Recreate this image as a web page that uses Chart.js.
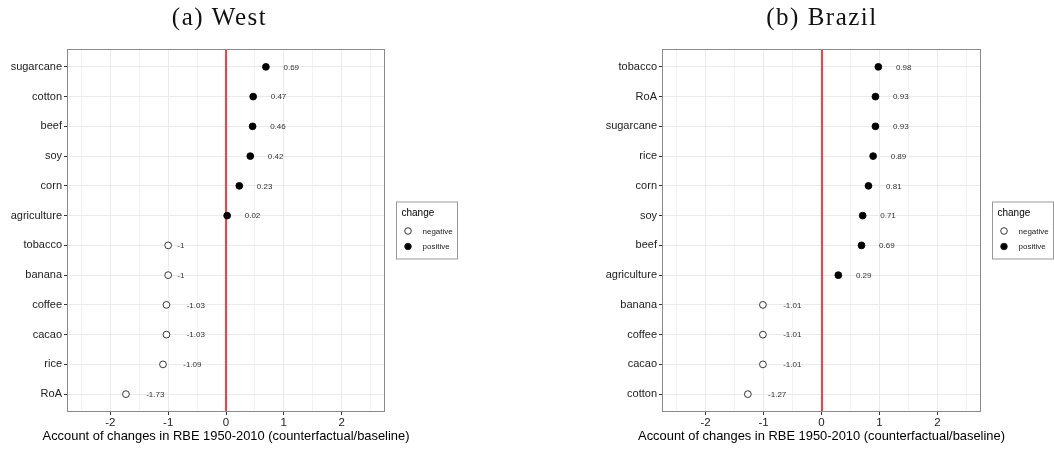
<!DOCTYPE html>
<html><head><meta charset="utf-8">
<script src="https://cdn.jsdelivr.net/npm/chart.js@4.4.1/dist/chart.umd.min.js"></script>
<style>
html,body{margin:0;padding:0;background:#fff}
body{width:1054px;height:451px;overflow:hidden;position:relative}
canvas{position:absolute;top:0}
</style></head><body>
<canvas id="c1" width="530" height="451" style="left:0"></canvas>
<canvas id="c2" width="524" height="451" style="left:530px"></canvas>
<script>
// ---- data ----
const westTitle = '(a) West';
const brazilTitle = '(b) Brazil';
const westCategories = ['sugarcane','cotton','beef','soy','corn','agriculture','tobacco','banana','coffee','cacao','rice','RoA'];
const westValues     = [0.69, 0.47, 0.46, 0.42, 0.23, 0.02, -1, -1, -1.03, -1.03, -1.09, -1.73];
const brazilCategories = ['tobacco','RoA','sugarcane','rice','corn','soy','beef','agriculture','banana','coffee','cacao','cotton'];
const brazilValues     = [0.98, 0.93, 0.93, 0.89, 0.81, 0.71, 0.69, 0.29, -1.01, -1.01, -1.01, -1.27];
const xTickValues = [-2.5, -2, -1.5, -1, -0.5, 0, 0.5, 1, 1.5, 2, 2.5];
const legendTitle = 'change';
const legendLabels = ['negative', 'positive'];
const axisTitle = 'Account of changes in RBE 1950-2010 (counterfactual/baseline)';

const SANS = '"Liberation Sans", Arial, Helvetica, sans-serif';
Chart.defaults.font.family = SANS;

function makeChart(id, title, titleX, cats, vals, yWidth, padRight, legendX) {
  const n = cats.length;
  const neg = [], pos = [];
  vals.forEach((v, i) => {
    const p = {x: v, y: n - i};
    (v < 0 ? neg : pos).push(p);
  });
  const decor = {
    id: 'decor_' + id,
    beforeDatasetsDraw(chart) {
      const {ctx, chartArea: a, scales: {x}} = chart;
      const x0 = Math.round(x.getPixelForValue(0)) ;
      ctx.save();
      ctx.strokeStyle = '#ff0000';
      ctx.lineWidth = 1.5;
      ctx.beginPath();
      ctx.moveTo(x0, a.top);
      ctx.lineTo(x0, a.bottom);
      ctx.stroke();
      ctx.restore();
    },
    afterDraw(chart) {
      const {ctx, chartArea: a, scales: {x, y}} = chart;
      ctx.save();
      // panel border
      ctx.strokeStyle = '#8a8a8a';
      ctx.lineWidth = 1;
      ctx.strokeRect(Math.round(a.left) + 0.5, Math.round(a.top) + 0.5,
                     Math.round(a.right - a.left) - 1, Math.round(a.bottom - a.top) - 1);
      // value labels
      ctx.font = '8px ' + SANS;
      ctx.fillStyle = '#333';
      ctx.textAlign = 'left';
      ctx.textBaseline = 'middle';
      vals.forEach((v, i) => {
        const t = String(v);
        const w = ctx.measureText(t).width;
        const px = x.getPixelForValue(v);
        const py = y.getPixelForValue(n - i);
        ctx.fillText(t, px + w + 2, py + 0.5);
      });
      // x axis title (drawn without width compression)
      ctx.font = '12.9px ' + SANS;
      ctx.fillStyle = '#000';
      ctx.textAlign = 'center';
      ctx.textBaseline = 'middle';
      ctx.fillText(axisTitle, (a.left + a.right) / 2, 436);
      // title
      ctx.font = '25px "Liberation Serif", "Times New Roman", serif';
      ctx.fillStyle = '#111';
      ctx.textAlign = 'center';
      ctx.textBaseline = 'alphabetic';
      if ('letterSpacing' in ctx) ctx.letterSpacing = '1.5px';
      ctx.fillText(title, titleX, 25);
      if ('letterSpacing' in ctx) ctx.letterSpacing = '0px';
      // legend
      const bx = legendX, by = 201.5;
      ctx.strokeStyle = '#999';
      ctx.lineWidth = 1;
      ctx.strokeRect(bx + 0.5, by + 0.5, 61, 57);
      ctx.font = '10px ' + SANS;
      ctx.fillStyle = '#000';
      ctx.textAlign = 'left';
      ctx.textBaseline = 'middle';
      ctx.fillText(legendTitle, bx + 5.5, by + 11.5);
      ctx.font = '8px ' + SANS;
      const ly = [by + 29.5, by + 45];
      legendLabels.forEach((lab, k) => {
        ctx.beginPath();
        ctx.arc(bx + 12, ly[k], 3.3, 0, Math.PI * 2);
        if (k === 1) { ctx.fillStyle = '#000'; ctx.fill(); }
        ctx.strokeStyle = '#222';
        ctx.lineWidth = 0.9;
        ctx.stroke();
        ctx.fillStyle = '#222';
        ctx.fillText(lab, bx + 26.5, ly[k] + 0.5);
      });
      ctx.restore();
    }
  };
  return new Chart(document.getElementById(id), {
    type: 'scatter',
    data: {
      datasets: [
        {label: legendLabels[0], data: neg, pointRadius: 3.4, pointHoverRadius: 3.4,
         pointBackgroundColor: '#fff', pointBorderColor: '#222', pointBorderWidth: 0.9},
        {label: legendLabels[1], data: pos, pointRadius: 3.4, pointHoverRadius: 3.4,
         pointBackgroundColor: '#000', pointBorderColor: '#000', pointBorderWidth: 0.9}
      ]
    },
    options: {
      responsive: false,
      animation: false,
      events: [],
      layout: {padding: {left: 0, top: 49, right: padRight, bottom: 0}},
      plugins: {legend: {display: false}, tooltip: {enabled: false}, title: {display: false}},
      scales: {
        x: {
          type: 'linear', min: -2.75, max: 2.75,
          afterBuildTicks: s => { s.ticks = xTickValues.map(v => ({value: v})); },
          afterFit: s => { s.height = 39; },
          border: {display: false},
          grid: {
            color: '#ebebeb',
            lineWidth: c => (c.tick && Number.isInteger(c.tick.value)) ? 1 : 0.6,
            tickColor: c => (c.tick && Number.isInteger(c.tick.value)) ? '#333' : 'rgba(0,0,0,0)',
            tickLength: 3
          },
          ticks: {
            autoSkip: false, maxRotation: 0,
            callback: v => Number.isInteger(v) ? String(v) : '',
            font: {size: 11.5}, color: '#222', padding: 1
          },
          title: {display: false}
        },
        y: {
          type: 'linear', min: 0.4, max: 12.6,
          afterBuildTicks: s => { s.ticks = cats.map((c, i) => ({value: n - i})); },
          afterFit: s => { s.width = yWidth; },
          border: {display: false},
          grid: {color: '#ebebeb', lineWidth: 1, tickColor: '#333', tickLength: 3},
          ticks: {
            autoSkip: false,
            callback: v => cats[n - v],
            font: {size: 11}, color: '#222', padding: 2
          }
        }
      }
    },
    plugins: [decor]
  });
}

makeChart('c1', westTitle, 219.5, westCategories, westValues, 67, 145, 396);
makeChart('c2', brazilTitle, 292, brazilCategories, brazilValues, 132, 73, 462);
</script>
</body></html>
